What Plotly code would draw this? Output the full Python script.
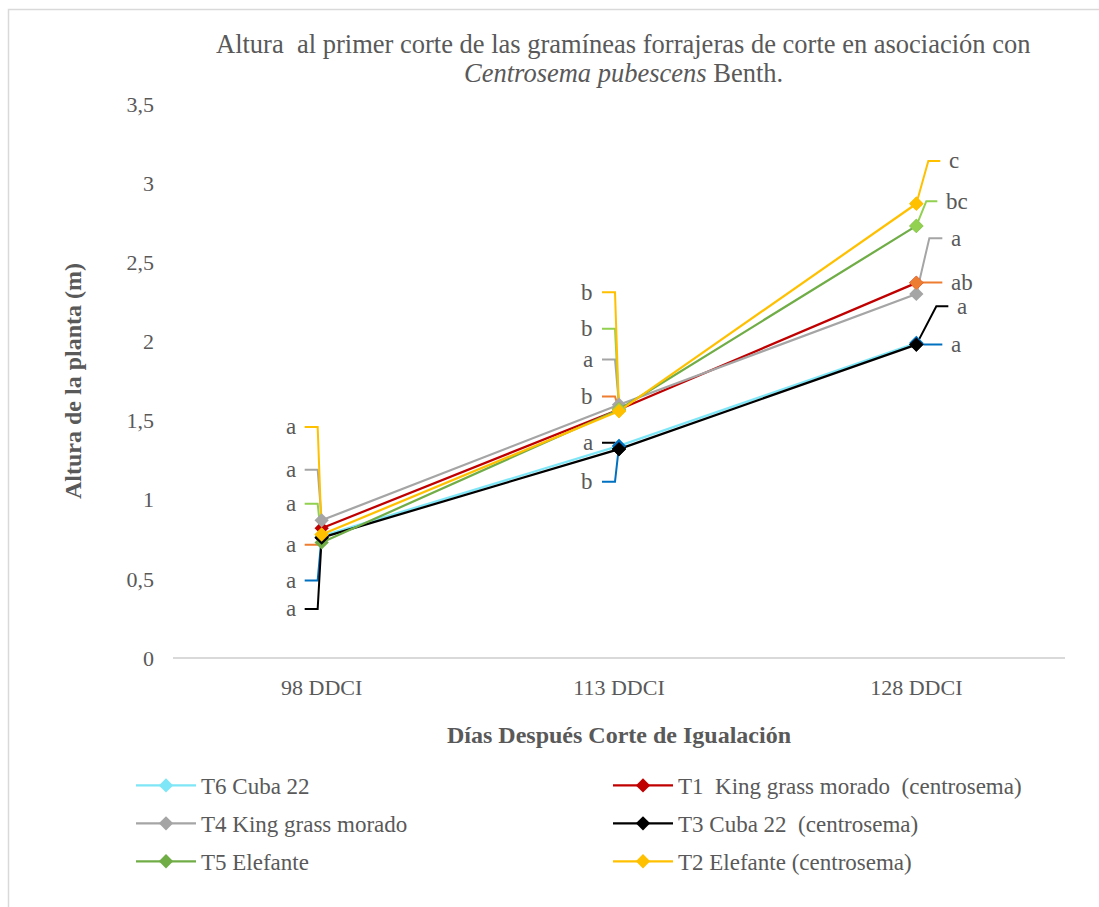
import plotly.graph_objects as go

categories = ["98 DDCI", "113 DDCI", "128 DDCI"]
series_names = ["T6 Cuba 22", "T1  King grass morado  (centrosema)", "T4 King grass morado",
                "T3 Cuba 22  (centrosema)", "T5 Elefante", "T2 Elefante (centrosema)"]
T6 = [0.77, 1.34, 1.99]
T1 = [0.82, 1.57, 2.37]
T4 = [0.87, 1.60, 2.30]
T3 = [0.76, 1.32, 1.98]
T5 = [0.73, 1.57, 2.73]
T2 = [0.78, 1.56, 2.87]
values = [T6, T1, T4, T3, T5, T2]

# significance letters per series at each cut
letters_T6 = ["a", "b", "a"]
letters_T1 = ["a", "b", "ab"]
letters_T4 = ["a", "a", "a"]
letters_T3 = ["a", "a", "a"]
letters_T5 = ["a", "b", "bc"]
letters_T2 = ["a", "b", "c"]
letters = [letters_T6, letters_T1, letters_T4, letters_T3, letters_T5, letters_T2]

# label placement (axis units) for each series at each cut
label_pos_T6 = [0.49, 1.114, 1.98]
label_pos_T1 = [0.715, 1.652, 2.373]
label_pos_T4 = [1.19, 1.886, 2.652]
label_pos_T3 = [0.31, 1.36, 2.222]
label_pos_T5 = [0.975, 2.08, 2.886]
label_pos_T2 = [1.46, 2.31, 3.14]
label_pos = [label_pos_T6, label_pos_T1, label_pos_T4, label_pos_T3, label_pos_T5, label_pos_T2]

# right-side leader geometry at 128 DDCI (pixels)
elbow_px = [8, 0, 13, 20, 10, 12]
end_px = [26, 26, 26, 32, 21, 24]

line_colors = ["#7FE6F7", "#C00000", "#A5A5A5", "#000000", "#70AD47", "#FFC000"]
leader_colors = ["#0070C0", "#ED7D31", "#A5A5A5", "#000000", "#92D050", "#FFC000"]
legend_of = ["legend", "legend2", "legend", "legend2", "legend", "legend2"]

PX = 892 / 3.0  # pixels per category unit
PY = 554.0      # plot height in pixels
xs = [0, 1, 2]
text_color = "#595959"
FONT = "Liberation Serif, Times New Roman, serif"

fig = go.Figure()

# leader lines (drawn first, below the series)
for i in range(6):
    for j in range(3):
        v = values[i][j]
        ly = label_pos[i][j]
        if j < 2:
            lx = [xs[j] - 17 / PX, xs[j] - 4 / PX, xs[j]]
            lyy = [ly, ly, v]
        else:
            lx = [xs[j], xs[j] + elbow_px[i] / PX, xs[j] + end_px[i] / PX]
            lyy = [v, ly, ly]
        fig.add_trace(go.Scatter(x=lx, y=lyy, mode="lines", showlegend=False,
                                 hoverinfo="skip",
                                 line=dict(color=leader_colors[i], width=2)))

for i in range(6):
    fig.add_trace(go.Scatter(
        x=xs, y=values[i], name=series_names[i], mode="lines+markers",
        legend=legend_of[i], legendgroup="g%d" % i,
        line=dict(color=line_colors[i], width=2.25),
        marker=dict(symbol="diamond", size=11, color=line_colors[i]),
    ))

# point markers as drawn on the plot (hidden in legend)
for i in [0, 1, 4]:
    fig.add_trace(go.Scatter(
        x=xs[1:], y=values[i][1:], mode="markers", showlegend=False, hoverinfo="skip",
        marker=dict(symbol="diamond", size=11, color=leader_colors[i]),
    ))
for i in [3, 5]:
    fig.add_trace(go.Scatter(
        x=xs, y=values[i], mode="markers", showlegend=False, hoverinfo="skip",
        marker=dict(symbol="diamond", size=11, color=line_colors[i]),
    ))

annotations = []
for i in range(6):
    for j in range(3):
        ly = label_pos[i][j]
        if j < 2:
            annotations.append(dict(x=xs[j] - 24 / PX, y=ly, xref="x", yref="y", text=letters[i][j],
                                    showarrow=False, xanchor="right", yanchor="middle",
                                    font=dict(family=FONT, size=23, color=text_color)))
        else:
            annotations.append(dict(x=xs[j] + (end_px[i] + 7) / PX, y=ly, xref="x", yref="y",
                                    text=letters[i][j], showarrow=False, xanchor="left",
                                    yanchor="middle",
                                    font=dict(family=FONT, size=23, color=text_color)))

annotations.append(dict(
    x=0.505, y=(658 - 44) / PY, xref="paper", yref="paper",
    text="Altura  al primer corte de las gramíneas forrajeras de corte en asociación con",
    showarrow=False, xanchor="center", yanchor="middle",
    font=dict(family=FONT, size=26.5, color=text_color)))
annotations.append(dict(
    x=0.505, y=(658 - 73) / PY, xref="paper", yref="paper",
    text="<i>Centrosema pubescens</i> Benth.",
    showarrow=False, xanchor="center", yanchor="middle",
    font=dict(family=FONT, size=26.5, color=text_color)))

legend_common = dict(orientation="v", xanchor="left", yanchor="top", y=(658 - 764) / PY,
                     itemwidth=60, tracegroupgap=5, bgcolor="rgba(0,0,0,0)",
                     font=dict(family=FONT, size=23, color=text_color))

fig.update_layout(
    width=1099, height=907,
    margin=dict(l=173, r=34, t=104, b=249),
    paper_bgcolor="white", plot_bgcolor="white",
    separators=", ",
    font=dict(family=FONT, size=22, color=text_color),
    annotations=annotations,
    xaxis=dict(range=[-0.5, 2.5], tickvals=xs, ticktext=categories, showgrid=False,
               zeroline=False, showline=False, ticks="", ticklabelstandoff=14,
               tickfont=dict(family=FONT, size=22, color=text_color),
               title=dict(text="<b>Días Después Corte de Igualación</b>", standoff=27,
                          font=dict(family=FONT, size=24, color=text_color))),
    yaxis=dict(range=[0, 3.5], dtick=0.5, showgrid=False, zeroline=True,
               zerolinecolor="#D9D9D9", zerolinewidth=1.5, showline=False, ticks="",
               ticklabelstandoff=18,
               tickfont=dict(family=FONT, size=22, color=text_color),
               title=dict(text="<b>Altura de la planta (m)</b>", standoff=38,
                          font=dict(family=FONT, size=24, color=text_color))),
    legend=dict(x=(131 - 173) / 892, **legend_common),
    legend2=dict(x=(608 - 173) / 892, **legend_common),
    shapes=[dict(type="rect", xref="paper", yref="paper",
                 x0=(8.5 - 173) / 892, x1=1.2, y0=-0.6, y1=(658 - 9.5) / PY,
                 line=dict(color="#D9D9D9", width=1.5), layer="below")],
    showlegend=True,
)

fig.write_html("out.html")
